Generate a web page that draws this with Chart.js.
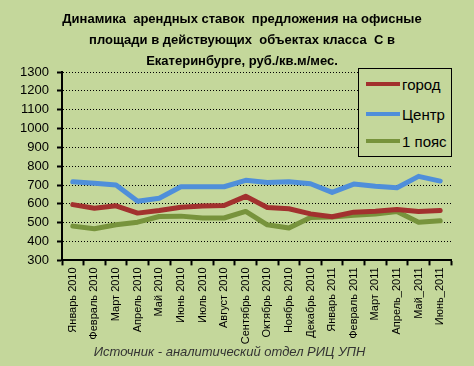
<!DOCTYPE html>
<html lang="ru">
<head>
<meta charset="utf-8">
<title>Динамика арендных ставок</title>
<script src="https://cdn.jsdelivr.net/npm/chart.js@4/dist/chart.umd.min.js"></script>
<style>
    html, body { margin: 0; padding: 0; }
    body { width: 474px; height: 366px; background: #C4D79B; position: relative; overflow: hidden; }
    #wrap { position: absolute; left: 0; top: 0; width: 474px; height: 366px; }
    #title {
        position: absolute; left: 22px; top: 8px; width: 440px; text-align: center;
        font-family: "Liberation Sans", Arial, sans-serif; font-size: 13px; font-weight: bold;
        line-height: 21px; color: #000; white-space: pre;
    }
    #legend {
        position: absolute; left: 358px; top: 68px; width: 94px; height: 89px;
        border: 1px solid #000; background: #C4D79B; box-sizing: border-box;
        font-family: "Liberation Sans", Arial, sans-serif; font-size: 15px; color: #000;
    }
    #legend .item { position: absolute; left: 7px; height: 18px; display: flex; align-items: center; }
    #legend .swatch { width: 34px; height: 4px; margin-right: 2px; }
</style>
</head>
<body>
<div id="wrap"><canvas id="chart" width="474" height="366"></canvas></div>
<div id="title"></div>
<div id="legend"></div>
<script>
const months = ["Январь 2010", "Февраль 2010", "Март 2010", "Апрель 2010", "Май 2010", "Июнь 2010",
    "Июль 2010", "Август 2010", "Сентябрь 2010", "Октябрь 2010", "Ноябрь 2010", "Декабрь 2010",
    "Январь 2011", "Февраль 2011", "Март 2011", "Апрель_2011", "Май_2011", "Июнь_2011"];

const gorod = [596, 577, 590, 551, 565, 582, 589, 591, 640, 581, 574, 547, 532, 556, 561, 570, 560, 565];
const centr = [717, 710, 700, 614, 630, 691, 691, 691, 725, 714, 717, 707, 661, 705, 693, 686, 746, 721];
const poyas = [482, 468, 489, 503, 533, 535, 525, 525, 560, 489, 472, 528, 530, 539, 546, 560, 503, 510];

const seriesNames = ["город", "Центр", "1 пояс"];
const seriesColors = ["#A2312E", "#4F8FDA", "#77933C"];

const yTicks = [300, 400, 500, 600, 700, 800, 900, 1000, 1100, 1200, 1300];

const titleLines = ["Динамика  арендных ставок  предложения на офисные",
    "площади в действующих  объектах класса  С в",
    "Екатеринбурге, руб./кв.м/мес."];

const font = "'Liberation Sans', Arial, sans-serif";

document.addEventListener("DOMContentLoaded", function () {
    document.getElementById("title").textContent = titleLines.join("\n");

    const seriesData = [gorod, centr, poyas];

    const datasets = seriesNames.map((name, i) => ({
        label: name,
        data: seriesData[i],
        borderColor: seriesColors[i],
        backgroundColor: seriesColors[i],
        borderWidth: 5,
        pointRadius: 0,
        tension: 0,
        borderCapStyle: "round",
        borderJoinStyle: "round"
    }));

    new Chart(document.getElementById("chart"), {
        type: "line",
        data: { labels: months, datasets: datasets },
        options: {
            responsive: false,
            animation: false,
            layout: { padding: { left: 8, right: 23, top: 72, bottom: 4 } },
            plugins: {
                legend: { display: false },
                tooltip: { enabled: false },
                title: { display: false },
                subtitle: {
                    display: true,
                    position: "bottom",
                    text: "Источник - аналитический отдел РИЦ УПН",
                    color: "#333",
                    font: { family: font, size: 13, style: "italic" },
                    padding: { top: 0, bottom: 2 }
                }
            },
            scales: {
                x: {
                    offset: true,
                    grid: {
                        offset: true,
                        drawOnChartArea: false,
                        drawTicks: true,
                        tickLength: 5,
                        tickColor: "#000",
                        tickWidth: 2
                    },
                    border: { display: true, color: "#000", width: 2 },
                    ticks: {
                        color: "#000",
                        font: { family: font, size: 11 },
                        minRotation: 90,
                        maxRotation: 90,
                        autoSkip: false,
                        padding: 2
                    },
                    afterFit: function (scale) { scale.height = 84; }
                },
                y: {
                    min: yTicks[0],
                    max: yTicks[yTicks.length - 1],
                    afterBuildTicks: function (scale) {
                        scale.ticks = yTicks.map(v => ({ value: v }));
                    },
                    grid: {
                        color: "#000",
                        lineWidth: 1,
                        drawTicks: true,
                        tickLength: 5,
                        tickColor: "#000",
                        tickWidth: 2,
                        tickBorderDash: []
                    },
                    border: { display: true, color: "#000", width: 2, dash: [1, 2] },
                    ticks: {
                        color: "#000",
                        font: { family: font, size: 13 },
                        padding: 8,
                        callback: function (value) { return String(value); }
                    },
                    afterFit: function (scale) { scale.width = 54; }
                }
            }
        }
    });

    const legend = document.getElementById("legend");
    const rowTops = [6, 36, 63];
    seriesNames.forEach((name, i) => {
        const item = document.createElement("div");
        item.className = "item";
        item.style.top = rowTops[i] + "px";
        const sw = document.createElement("span");
        sw.className = "swatch";
        sw.style.background = seriesColors[i];
        const txt = document.createElement("span");
        txt.textContent = name;
        item.appendChild(sw);
        item.appendChild(txt);
        legend.appendChild(item);
    });
});
</script>
</body>
</html>
